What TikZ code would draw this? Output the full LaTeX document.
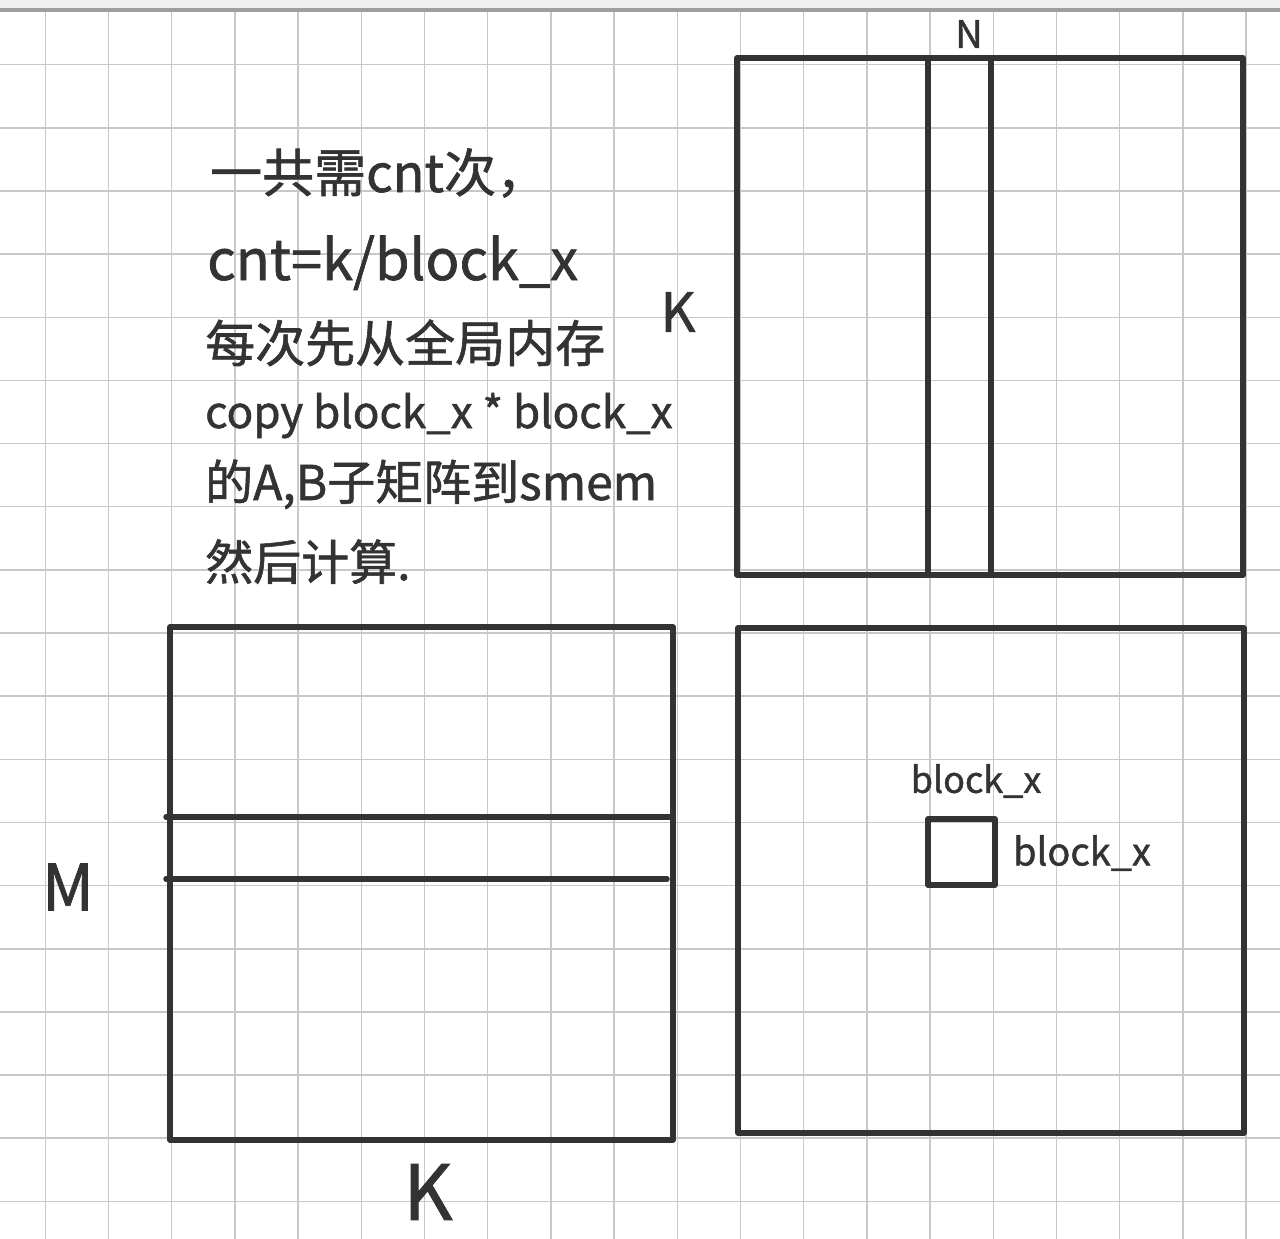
\documentclass[tikz,border=0pt]{standalone}
\usepackage{fontspec}
\newfontfamily\handfont[FakeBold=1.2]{Noto Sans CJK SC}
\definecolor{ink}{HTML}{333333}
\definecolor{gridgray}{HTML}{C8C8C8}
\definecolor{bargray}{HTML}{9E9E9E}
\definecolor{barlight}{HTML}{F0F0F0}
\begin{document}
\begin{tikzpicture}[x=1pt,y=-1pt]
\tikzset{
mat line/.style={draw=ink,line width=5.5pt,line cap=round,line join=round},
grid line/.style={draw=gridgray,line width=1.5pt},
note text/.style={anchor=base west,inner sep=0,text=ink,font=\handfont\fontsize{48}{58}\selectfont},
dim label/.style={inner sep=0,text=ink,font=\handfont\fontsize{#1}{#1}\selectfont}
}
\useasboundingbox (0,0) rectangle (1280,1239);
\fill[white] (0,0) rectangle (1280,1239);

% paper grid
\foreach \i in {0,...,19}
  \draw[grid line] ({45.3+63.2*\i},12) -- ({45.3+63.2*\i},1239);
\foreach \j in {1,...,19}
  \draw[grid line] (0,{1.5+63.15*\j}) -- (1280,{1.5+63.15*\j});
\fill[barlight] (0,0) rectangle (1280,8);
\fill[bargray] (0,8) rectangle (1280,12);

% corners of the three matrices
\coordinate (B nw) at (737,58);
\coordinate (B se) at (1243,575);
\coordinate (C nw) at (738,628);
\coordinate (C se) at (1244,1133);
\coordinate (A nw) at (170,627);
\coordinate (A se) at (673,1140);

% matrix B with one column strip
\draw[mat line] (B nw) rectangle (B se);
\draw[mat line] (928,58) -- (928,575);
\draw[mat line] (991,58) -- (991,575);

% matrix A with one row strip
\draw[mat line] (A nw) rectangle (A se);
\draw[mat line] (166,817) -- (673,817);
\draw[mat line] (166,879) -- (667,879);

% matrix C with one tile
\draw[mat line] (C nw) rectangle (C se);
\coordinate (tile nw) at (928,819);
\coordinate (tile se) at (995,885);
\draw[mat line] (tile nw) rectangle (tile se);

% dimension labels
\node[dim label=38] (N label) at (969,34) {N};
\node[dim label=54] (K top) at (678,312) {K};
\node[dim label=64] (M label) at (68,887) {M};
\node[dim label=76] (K bottom) at (428,1192) {K};
\node[dim label=36] (tile top) at (976,781) {block\_x};
\node[dim label=38] (tile right) at (1082,853) {block\_x};

% notes
\node[note text,font=\handfont\fontsize{52}{58}\selectfont] (line1) at (210,192) {一共需cnt次，};
\node[note text,font=\handfont\fontsize{56}{58}\selectfont] (line2) at (207,280) {cnt=k/block\_x};
\node[note text,font=\handfont\fontsize{50}{58}\selectfont] (line3) at (205,362) {每次先从全局内存};
\node[note text,font=\handfont\fontsize{44}{58}\selectfont] (line4) at (205,428) {copy block\_x * block\_x};
\node[note text] (line5) at (205,500) {的A,B子矩阵到smem};
\node[note text] (line6) at (205,580) {然后计算.};
\end{tikzpicture}
\end{document}
